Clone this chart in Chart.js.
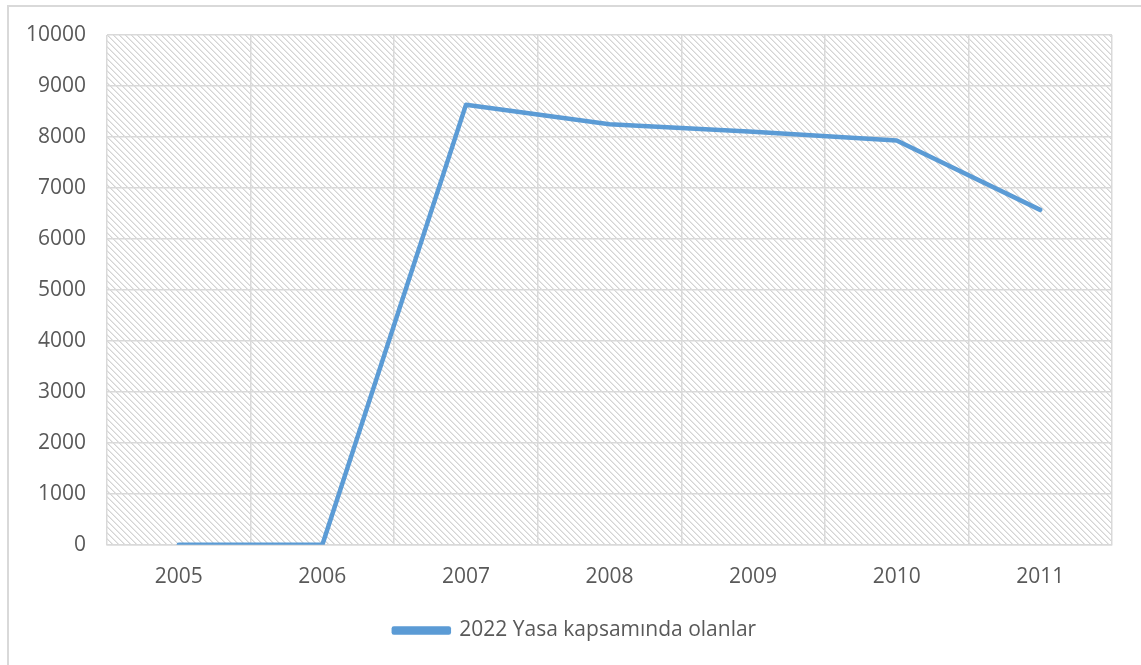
<!DOCTYPE html>
<html>
<head>
<meta charset="utf-8">
<script src="https://cdn.jsdelivr.net/npm/chart.js@4"></script>
<style>
  html, body { margin: 0; padding: 0; background: #fff; }
  #frame {
    position: absolute; left: 7px; top: 5px; width: 1200px; height: 700px;
    border-left: 2px solid #d9d9d9; border-top: 2px solid #d9d9d9;
  }
  #wrap { position: absolute; left: 0; top: 0; width: 1141px; height: 665px; }
</style>
</head>
<body>
<div id="frame"></div>
<div id="wrap"><canvas id="chart"></canvas></div>
<script>
  // chart data
  const categories = ['2005', '2006', '2007', '2008', '2009', '2010', '2011'];
  const seriesName = '2022 Yasa kapsamında olanlar';
  const seriesValues = [0, 0, 8630, 8250, 8100, 7930, 6570];
  const yMin = 0;
  const yMax = 10000;
  const yStep = 1000;

  const textColor = '#595959';
  const gridColor = '#d9d9d9';
  const lineColor = '#5b9bd5';
  const fontFamily = "'Open Sans', 'Noto Sans', sans-serif";

  // Diagonal hatch used behind the plot area
  function makeHatch() {
    const p = document.createElement('canvas');
    p.width = 6;
    p.height = 6;
    const c = p.getContext('2d');
    c.fillStyle = '#ffffff';
    c.fillRect(0, 0, 6, 6);
    for (let y = 0; y < 6; y++) {
      for (let x = 0; x < 6; x++) {
        const d = (x - y + 12) % 6;
        if (d === 0) { c.fillStyle = '#d4d4d4'; c.fillRect(x, y, 1, 1); }
        if (d === 1) { c.fillStyle = '#e8e8e8'; c.fillRect(x, y, 1, 1); }
      }
    }
    return p;
  }

  const hatchPlugin = {
    id: 'hatch',
    beforeDraw(chart) {
      const { ctx, chartArea } = chart;
      ctx.save();
      ctx.fillStyle = ctx.createPattern(makeHatch(), 'repeat');
      ctx.fillRect(chartArea.left, chartArea.top, chartArea.right - chartArea.left, chartArea.bottom - chartArea.top);
      ctx.restore();
    }
  };

  // legend sits a little right of the canvas centre in the original
  const legendShift = {
    id: 'legendShift',
    afterLayout(chart) {
      chart.legend.left += 19;
      chart.legend.right += 19;
    }
  };

  const ctx = document.getElementById('chart').getContext('2d');
  new Chart(ctx, {
    type: 'line',
    data: {
      labels: categories,
      datasets: [{
        label: seriesName,
        data: seriesValues,
        borderColor: lineColor,
        backgroundColor: lineColor,
        borderWidth: 4.5,
        borderCapStyle: 'round',
        borderJoinStyle: 'round',
        pointRadius: 0,
        tension: 0
      }]
    },
    options: {
      responsive: true,
      maintainAspectRatio: false,
      animation: false,
      layout: { padding: { left: 0, right: 29, top: 35, bottom: 14 } },
      scales: {
        x: {
          offset: true,
          grid: { color: gridColor, lineWidth: 1.5, drawTicks: false, offset: true },
          border: { color: gridColor, width: 1.5 },
          ticks: { color: textColor, font: { family: fontFamily, size: 21 }, padding: 20 }
        },
        y: {
          min: yMin,
          max: yMax,
          afterFit(scale) { scale.width = 107; },
          grid: { color: gridColor, lineWidth: 1.5, drawTicks: false },
          border: { display: false },
          ticks: {
            stepSize: yStep,
            color: textColor,
            font: { family: fontFamily, size: 21 },
            padding: 21,
            callback: (v) => String(v)
          }
        }
      },
      plugins: {
        legend: {
          position: 'bottom',
          labels: {
            color: textColor,
            font: { family: fontFamily, size: 21 },
            boxWidth: 55,
            boxHeight: 4,
            padding: 10
          }
        },
        tooltip: { enabled: false }
      }
    },
    plugins: [hatchPlugin, legendShift]
  });
</script>
</body>
</html>
